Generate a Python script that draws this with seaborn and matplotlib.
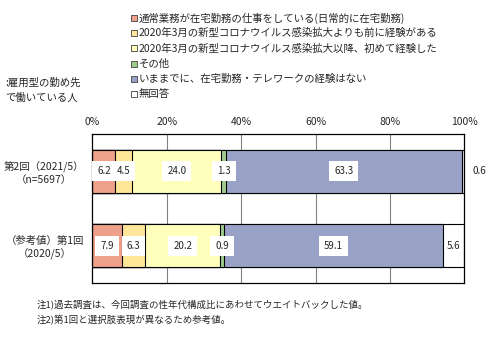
import numpy as np
import pandas as pd
import matplotlib
matplotlib.use("Agg")
import matplotlib.pyplot as plt
from matplotlib.patches import Rectangle
import seaborn as sns

sns.set_theme(style="white")
plt.rcParams['font.family'] = ['Noto Sans CJK JP', 'DejaVu Sans']

categories = ["第2回（2021/5）\n（n=5697）", "（参考値）第1回\n（2020/5）"]
series = [
    "通常業務が在宅勤務の仕事をしている(日常的に在宅勤務)",
    "2020年3月の新型コロナウイルス感染拡大よりも前に経験がある",
    "2020年3月の新型コロナウイルス感染拡大以降、初めて経験した",
    "その他",
    "いままでに、在宅勤務・テレワークの経験はない",
    "無回答",
]
round2 = [6.2, 4.5, 24.0, 1.3, 63.3, 0.6]
round1 = [7.9, 6.3, 20.2, 0.9, 59.1, 5.6]
xtick_labels = ["0%", "20%", "40%", "60%", "80%", "100%"]
colors = ["#EEA08A", "#FFE699", "#FFFFBB", "#9FCB8C", "#99A1C7", "#FFFFFF"]
notes = ["注1)過去調査は、今回調査の性年代構成比にあわせてウエイトバックした値。",
         "注2)第1回と選択肢表現が異なるため参考値。"]

values = np.array([round2, round1])
cum = np.cumsum(values, axis=1)

fig = plt.figure(figsize=(5.0, 3.39), dpi=100)
ax = fig.add_axes([0.1846, 0.1652, 0.744, 0.4395])

for x in [20, 40, 60, 80]:
    ax.axvline(x, color="#808080", lw=0.8, zorder=0)

for i in reversed(range(len(series))):
    df = pd.DataFrame({"cat": categories, "val": cum[:, i]})
    sns.barplot(data=df, x="val", y="cat", orient="h", color=colors[i],
                width=0.58, edgecolor="black", linewidth=0.8, saturation=1,
                ax=ax, zorder=2)

ax.set_xlim(0, 100)
ax.set_ylim(1.5, -0.5)
ax.set_xlabel("")
ax.set_ylabel("")
ax.xaxis.tick_top()
ax.set_xticks([0, 20, 40, 60, 80, 100])
ax.set_xticklabels(xtick_labels, fontsize=7.5)
ax.tick_params(axis="x", length=0, pad=5)
ax.tick_params(axis="y", length=0, pad=6)
for t in ax.get_yticklabels():
    t.set_fontsize(7.5)
    t.set_multialignment("center")
for s in ax.spines.values():
    s.set_color("black")
    s.set_linewidth(0.9)
    s.set_visible(True)

box = dict(boxstyle="square,pad=0.5", fc="white", ec="none")
for r in range(values.shape[0]):
    for i in range(len(series)):
        v = values[r, i]
        center = cum[r, i] - v / 2
        if i == len(series) - 1:
            if v < 2:
                ax.annotate(f"{v:.1f}", (100, r), xytext=(11, 0), textcoords="offset points",
                            ha="center", va="center", fontsize=7, zorder=5)
            else:
                ax.text(center, r, f"{v:.1f}", ha="center", va="center", fontsize=7, zorder=5)
        else:
            ax.text(center, r, f"{v:.1f}", ha="center", va="center", fontsize=7,
                    bbox=box, zorder=5)

# legend
for i, (lab, col) in enumerate(zip(series, colors)):
    yc = 18 + i * 15.2
    fig.add_artist(Rectangle((131 / 500, 1 - (yc + 3) / 339), 6 / 500, 6 / 339,
                             transform=fig.transFigure, fc=col, ec="#404040", lw=0.6))
    fig.text(138.5 / 500, 1 - yc / 339, lab, ha="left", va="center", fontsize=7.5)

fig.text(5 / 500, 1 - 83 / 339, ":雇用型の勤め先", ha="left", va="center", fontsize=7.5)
fig.text(5 / 500, 1 - 98 / 339, "で働いている人", ha="left", va="center", fontsize=7.5)

fig.text(37 / 500, 1 - 304 / 339, notes[0], ha="left", va="center", fontsize=6.8)
fig.text(37 / 500, 1 - 320 / 339, notes[1], ha="left", va="center", fontsize=6.8)

fig.savefig("out.png", dpi=100, facecolor="white")
